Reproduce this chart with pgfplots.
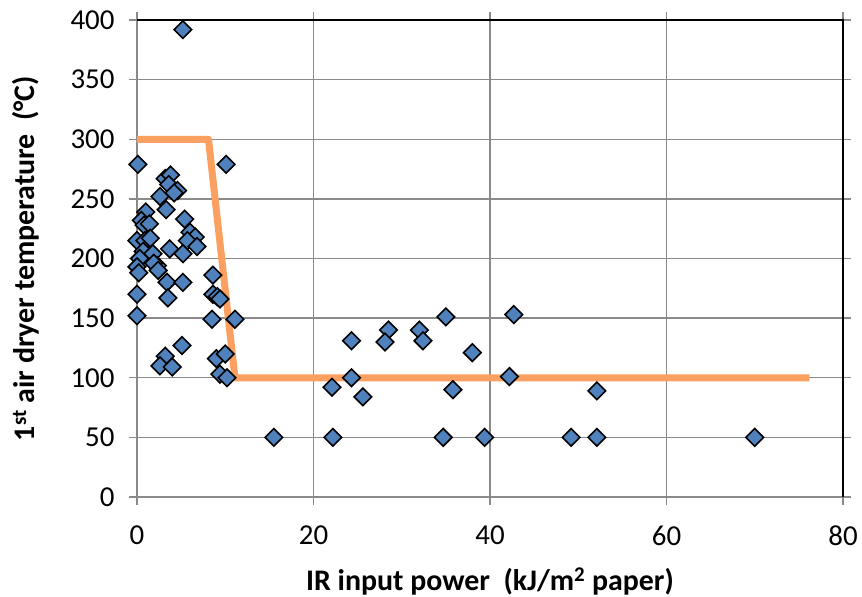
\documentclass[border=0pt]{standalone}
\usepackage{fontspec}
\setmainfont{Carlito}
\usepackage{pgfplots}
\pgfplotsset{compat=1.18}
\definecolor{ptblue}{HTML}{4F81BD}
\definecolor{lineorange}{HTML}{FBA060}
\definecolor{gridgray}{HTML}{8A8A8A}
\begin{document}
\begin{tikzpicture}
\begin{axis}[
  name=ax,
  scale only axis,
  width=706bp, height=477bp,
  xmin=0, xmax=80, ymin=0, ymax=400,
  xtick={0,20,...,80}, ytick={0,50,...,400},
  grid=major,
  major grid style={gridgray, line width=1.3bp},
  axis line style={gridgray, line width=1.3bp},
  tick style={gridgray, line width=1.3bp},
  tick align=outside,
  major tick length=8bp,
  /pgf/number format/assume math mode=true,
  ticklabel style={font=\fontsize{29}{33}\selectfont},
  xticklabel style={yshift=-17bp},
  yticklabel style={xshift=-11bp},
  xlabel={\textbf{IR input power\ \ (kJ/m\textsuperscript{2} paper)}},
  ylabel={\textbf{1\textsuperscript{st} air dryer temperature\ \ (°C)}},
  label style={font=\fontsize{30}{34}\selectfont},
  xlabel style={at={([yshift=-93bp]axis description cs:0.5,0)}, anchor=base},
  ylabel style={at={([xshift=-102bp]axis description cs:0,0.5)}, anchor=base, rotate=0},
  clip=false,
]
\addplot[lineorange, line width=7bp, line join=round] coordinates {
 (0,300) (8.1,300) (11.1,100) (76.2,100)};
\addplot[only marks, mark=square*, mark size=6.2bp,
  mark options={rotate=45, fill=ptblue, draw=black, line width=1.6bp}] coordinates {
 (5.2,392) (0.1,279) (10.1,279)
 (3.2,267) (3.8,270) (3.6,262) (4.6,257) (4.2,255) (2.6,252) (3.3,241) (1.0,239)
 (0.5,232) (0.8,228) (1.4,229)
 (5.4,233) (6.0,222) (6.6,218) (5.7,215) (6.8,210) (5.2,204) (3.7,208)
 (0.0,215) (0.9,215) (1.5,217) (0.7,206) (1.8,204) (0.3,200) (2.3,194) (0.0,193) (0.2,188)
 (1.9,196) (2.4,190) (3.4,180) (5.2,180) (0.0,170) (3.5,167)
 (8.6,186) (8.6,170) (9.1,168) (9.4,166) (0.0,152) (8.5,149) (11.1,149)
 (5.1,127) (3.2,118) (2.6,110) (4.0,109) (9.0,116) (10.0,120) (9.4,103) (10.2,100)
 (15.5,50) (22.2,50) (34.7,50) (39.4,50) (49.2,50) (52.1,50) (70.0,50)
 (22.1,92) (24.3,100) (25.6,84) (24.3,131) (28.5,140) (28.1,130) (32.0,140) (32.4,131)
 (35.0,151) (38.0,121) (35.8,90) (42.7,153) (42.2,101) (52.1,89)
};
\draw[black, line width=1.6bp] (rel axis cs:0,1) -- (rel axis cs:1,1) -- (rel axis cs:1,0);
\end{axis}
\pgfresetboundingbox
\path ([xshift=-137bp,yshift=-100bp]ax.south west) rectangle ([xshift=19bp,yshift=20bp]ax.north east);
\end{tikzpicture}
\end{document}
